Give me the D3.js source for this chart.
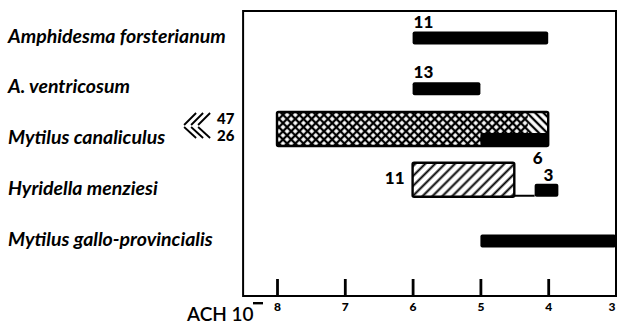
<!DOCTYPE html>
<html>
<head>
<meta charset="utf-8">
<script src="https://cdn.jsdelivr.net/npm/d3@7"></script>
<style>
  html, body { margin: 0; padding: 0; background: #fff; }
  svg { display: block; }
</style>
</head>
<body>
<svg id="chart" width="618" height="324"></svg>
<script>
// Species, top to bottom
const species = [
  "Amphidesma forsterianum",
  "A. ventricosum",
  "Mytilus canaliculus",
  "Hyridella menziesi",
  "Mytilus gallo-provincialis"
];

// ACh concentration, exponent of 10^-x
const tickValues = [8, 7, 6, 5, 4, 3];

// Solid bars: concentration ranges, with number of animals
const solidRanges = [
  { species: "Amphidesma forsterianum", from: 6, to: 4, n: "11" },
  { species: "A. ventricosum", from: 6, to: 5, n: "13" },
  { species: "Mytilus canaliculus", from: 5, to: 4, n: null },
  { species: "Hyridella menziesi", from: 4.2, to: 3.85, n: "3" },
  { species: "Mytilus gallo-provincialis", from: 5, to: 3, n: null }
];

// Hatched ranges: "\\\" group and "///" group (overlap reads as cross-hatch)
const backHatchRanges = [
  { species: "Mytilus canaliculus", from: 8, to: 4, n: "26" }
];
const fwdHatchRanges = [
  { species: "Mytilus canaliculus", from: 8, to: 4.3, n: "47" },
  { species: "Hyridella menziesi", from: 6, to: 4.5, n: "11" }
];

// Extra count marked above the gap on the Hyridella row
const gapCounts = [
  { species: "Hyridella menziesi", at: 4.2, n: "6" }
];

const svg = d3.select("#chart");
const defs = svg.append("defs");

const x = d3.scaleLinear().domain([8, 3]).range([277, 616]);
// row baseline (bottom edge of the bars of each row)
const y = d3.scalePoint().domain(species).range([44.5, 247.5]);

const plotLeft = x(8.5), plotRight = x(3);
const plotTop = 11, plotBottom = 296;
const solidH = 13, doubleH = 34;

const labelFont = "Lato, 'Open Sans', 'DejaVu Sans', sans-serif";

// hatch patterns
function hatch(id, angle, spacing, width) {
  const p = defs.append("pattern")
    .attr("id", id)
    .attr("patternUnits", "userSpaceOnUse")
    .attr("width", spacing)
    .attr("height", 20)
    .attr("patternTransform", `rotate(${angle})`);
  p.append("line")
    .attr("x1", spacing / 2).attr("x2", spacing / 2)
    .attr("y1", 0).attr("y2", 20)
    .attr("stroke", "#000")
    .attr("stroke-width", width);
}
hatch("fwd-dense", 45, 5.8, 2.3);
hatch("back-dense", -45, 5.8, 2.3);
hatch("fwd-open", 45, 7, 2);

// frame
svg.append("rect")
  .attr("x", plotLeft).attr("y", plotTop)
  .attr("width", plotRight - plotLeft)
  .attr("height", plotBottom - plotTop)
  .attr("fill", "none")
  .attr("stroke", "#000")
  .attr("stroke-width", 2);

// bottom axis with inward ticks
const axis = d3.axisBottom(x)
  .tickValues(tickValues)
  .tickSize(-17)
  .tickSizeOuter(0)
  .tickPadding(6)
  .tickFormat(d3.format("d"));

const gAxis = svg.append("g")
  .attr("transform", `translate(0,${plotBottom})`)
  .call(axis);
gAxis.select(".domain").remove();
gAxis.selectAll(".tick line")
  .attr("stroke", "#000")
  .attr("stroke-width", 2.8)
  .filter(d => d === 3).remove();
gAxis.selectAll(".tick text")
  .attr("fill", "#000")
  .style("font-family", labelFont)
  .style("font-weight", "900")
  .style("font-size", "12px");
// last label sits flush against the right edge
gAxis.selectAll(".tick text")
  .filter(d => d === 3)
  .attr("text-anchor", "end")
  .attr("x", -1);

// axis title: ACH 10^-
svg.append("text")
  .attr("x", 187).attr("y", 321)
  .style("font-family", labelFont)
  .style("font-weight", "600")
  .style("font-size", "19px")
  .attr("fill", "#000")
  .text("ACH 10");
svg.append("rect")
  .attr("x", 253).attr("y", 302)
  .attr("width", 10).attr("height", 2.4)
  .attr("fill", "#000");

// species labels
svg.append("g").selectAll("text")
  .data(species)
  .join("text")
  .attr("x", 8)
  .attr("y", d => y(d) - 2)
  .style("font-family", labelFont)
  .style("font-style", "italic")
  .style("font-weight", "bold")
  .style("font-size", "19.5px")
  .attr("fill", "#000")
  .text(d => d);

const hatchedRows = new Set(backHatchRanges.concat(fwdHatchRanges).map(d => d.species));

// hatched bars: white base, then patterns
const hatchRows = d3.groups(backHatchRanges.concat(fwdHatchRanges), d => d.species);
const gHatch = svg.append("g");
hatchRows.forEach(([sp, ranges]) => {
  const from = d3.max(ranges, d => d.from);
  const to = d3.min(ranges, d => d.to);
  gHatch.append("rect")
    .attr("x", x(from)).attr("y", y(sp) - doubleH)
    .attr("width", x(to) - x(from)).attr("height", doubleH)
    .attr("fill", "#fff");
});
const dense = new Set(backHatchRanges.map(d => d.species));
gHatch.selectAll("rect.back")
  .data(backHatchRanges)
  .join("rect")
  .attr("class", "back")
  .attr("x", d => x(d.from)).attr("y", d => y(d.species) - doubleH)
  .attr("width", d => x(d.to) - x(d.from)).attr("height", doubleH)
  .attr("fill", "url(#back-dense)");
gHatch.selectAll("rect.fwd")
  .data(fwdHatchRanges)
  .join("rect")
  .attr("class", "fwd")
  .attr("x", d => x(d.from)).attr("y", d => y(d.species) - doubleH)
  .attr("width", d => x(d.to) - x(d.from)).attr("height", doubleH)
  .attr("fill", d => dense.has(d.species) ? "url(#fwd-dense)" : "url(#fwd-open)");

// solid bars
svg.append("g").selectAll("rect")
  .data(solidRanges)
  .join("rect")
  .attr("x", d => x(d.from))
  .attr("y", d => y(d.species) - solidH)
  .attr("width", d => x(d.to) - x(d.from))
  .attr("height", solidH)
  .attr("rx", 2)
  .attr("fill", "#000");

// outlines of hatched bars
hatchRows.forEach(([sp, ranges]) => {
  const from = d3.max(ranges, d => d.from);
  const to = d3.min(ranges, d => d.to);
  gHatch.append("rect")
    .attr("x", x(from)).attr("y", y(sp) - doubleH)
    .attr("width", x(to) - x(from)).attr("height", doubleH)
    .attr("rx", 1.5)
    .attr("fill", "none")
    .attr("stroke", "#000")
    .attr("stroke-width", 2.4);
});

// baseline joining the open hatched bar to the next solid bar on the same row
const openRanges = fwdHatchRanges.filter(d => !dense.has(d.species));
openRanges.forEach(r => {
  const next = solidRanges.find(s => s.species === r.species && s.from <= r.to);
  if (next) {
    svg.append("line")
      .attr("x1", x(r.to)).attr("x2", x(next.from))
      .attr("y1", y(r.species) - 1).attr("y2", y(r.species) - 1)
      .attr("stroke", "#000").attr("stroke-width", 2);
  }
});

const countStyle = (sel, size) => sel
  .style("font-family", labelFont)
  .style("font-weight", "900")
  .style("font-size", (size || 17) + "px")
  .attr("fill", "#000");

// counts above solid bars
svg.append("g").selectAll("text")
  .data(solidRanges.filter(d => d.n))
  .join("text")
  .attr("x", d => (x(d.to) - x(d.from)) < 40 ? (x(d.from) + x(d.to)) / 2 + 2 : x(d.from) + 1)
  .attr("text-anchor", d => (x(d.to) - x(d.from)) < 40 ? "middle" : "start")
  .attr("y", d => y(d.species) - (hatchedRows.has(d.species) ? 16 : 17))
  .call(countStyle)
  .text(d => d.n);

// count left of the open hatched bar
svg.append("g").selectAll("text")
  .data(openRanges)
  .join("text")
  .attr("x", d => x(d.from) - 8)
  .attr("y", d => y(d.species) - 13)
  .attr("text-anchor", "end")
  .call(countStyle)
  .text(d => d.n);

// gap count
svg.append("g").selectAll("text")
  .data(gapCounts)
  .join("text")
  .attr("x", d => x(d.at) - 2)
  .attr("y", d => y(d.species) - 33)
  .call(countStyle)
  .text(d => d.n);

// key for the two hatched groups, left of the frame
const keyRows = [
  { dir: "fwd", range: fwdHatchRanges.find(d => dense.has(d.species)) },
  { dir: "back", range: backHatchRanges[0] }
];
const gKey = svg.append("g");
keyRows.forEach(k => {
  const yb = y(k.range.species);
  const x0 = plotLeft - 59;
  d3.range(3).forEach(i => {
    const xa = x0 + 7 * i;
    gKey.append("line")
      .attr("x1", xa).attr("x2", xa + 12)
      .attr("y1", k.dir === "fwd" ? yb - 21 : yb - 19)
      .attr("y2", k.dir === "fwd" ? yb - 33 : yb - 8)
      .attr("stroke", "#000")
      .attr("stroke-width", 1.8);
  });
  gKey.append("text")
    .attr("x", plotLeft - 26)
    .attr("y", k.dir === "fwd" ? yb - 22 : yb - 5)
    .call(countStyle, 15)
    .text(k.range.n);
});
</script>
</body>
</html>
